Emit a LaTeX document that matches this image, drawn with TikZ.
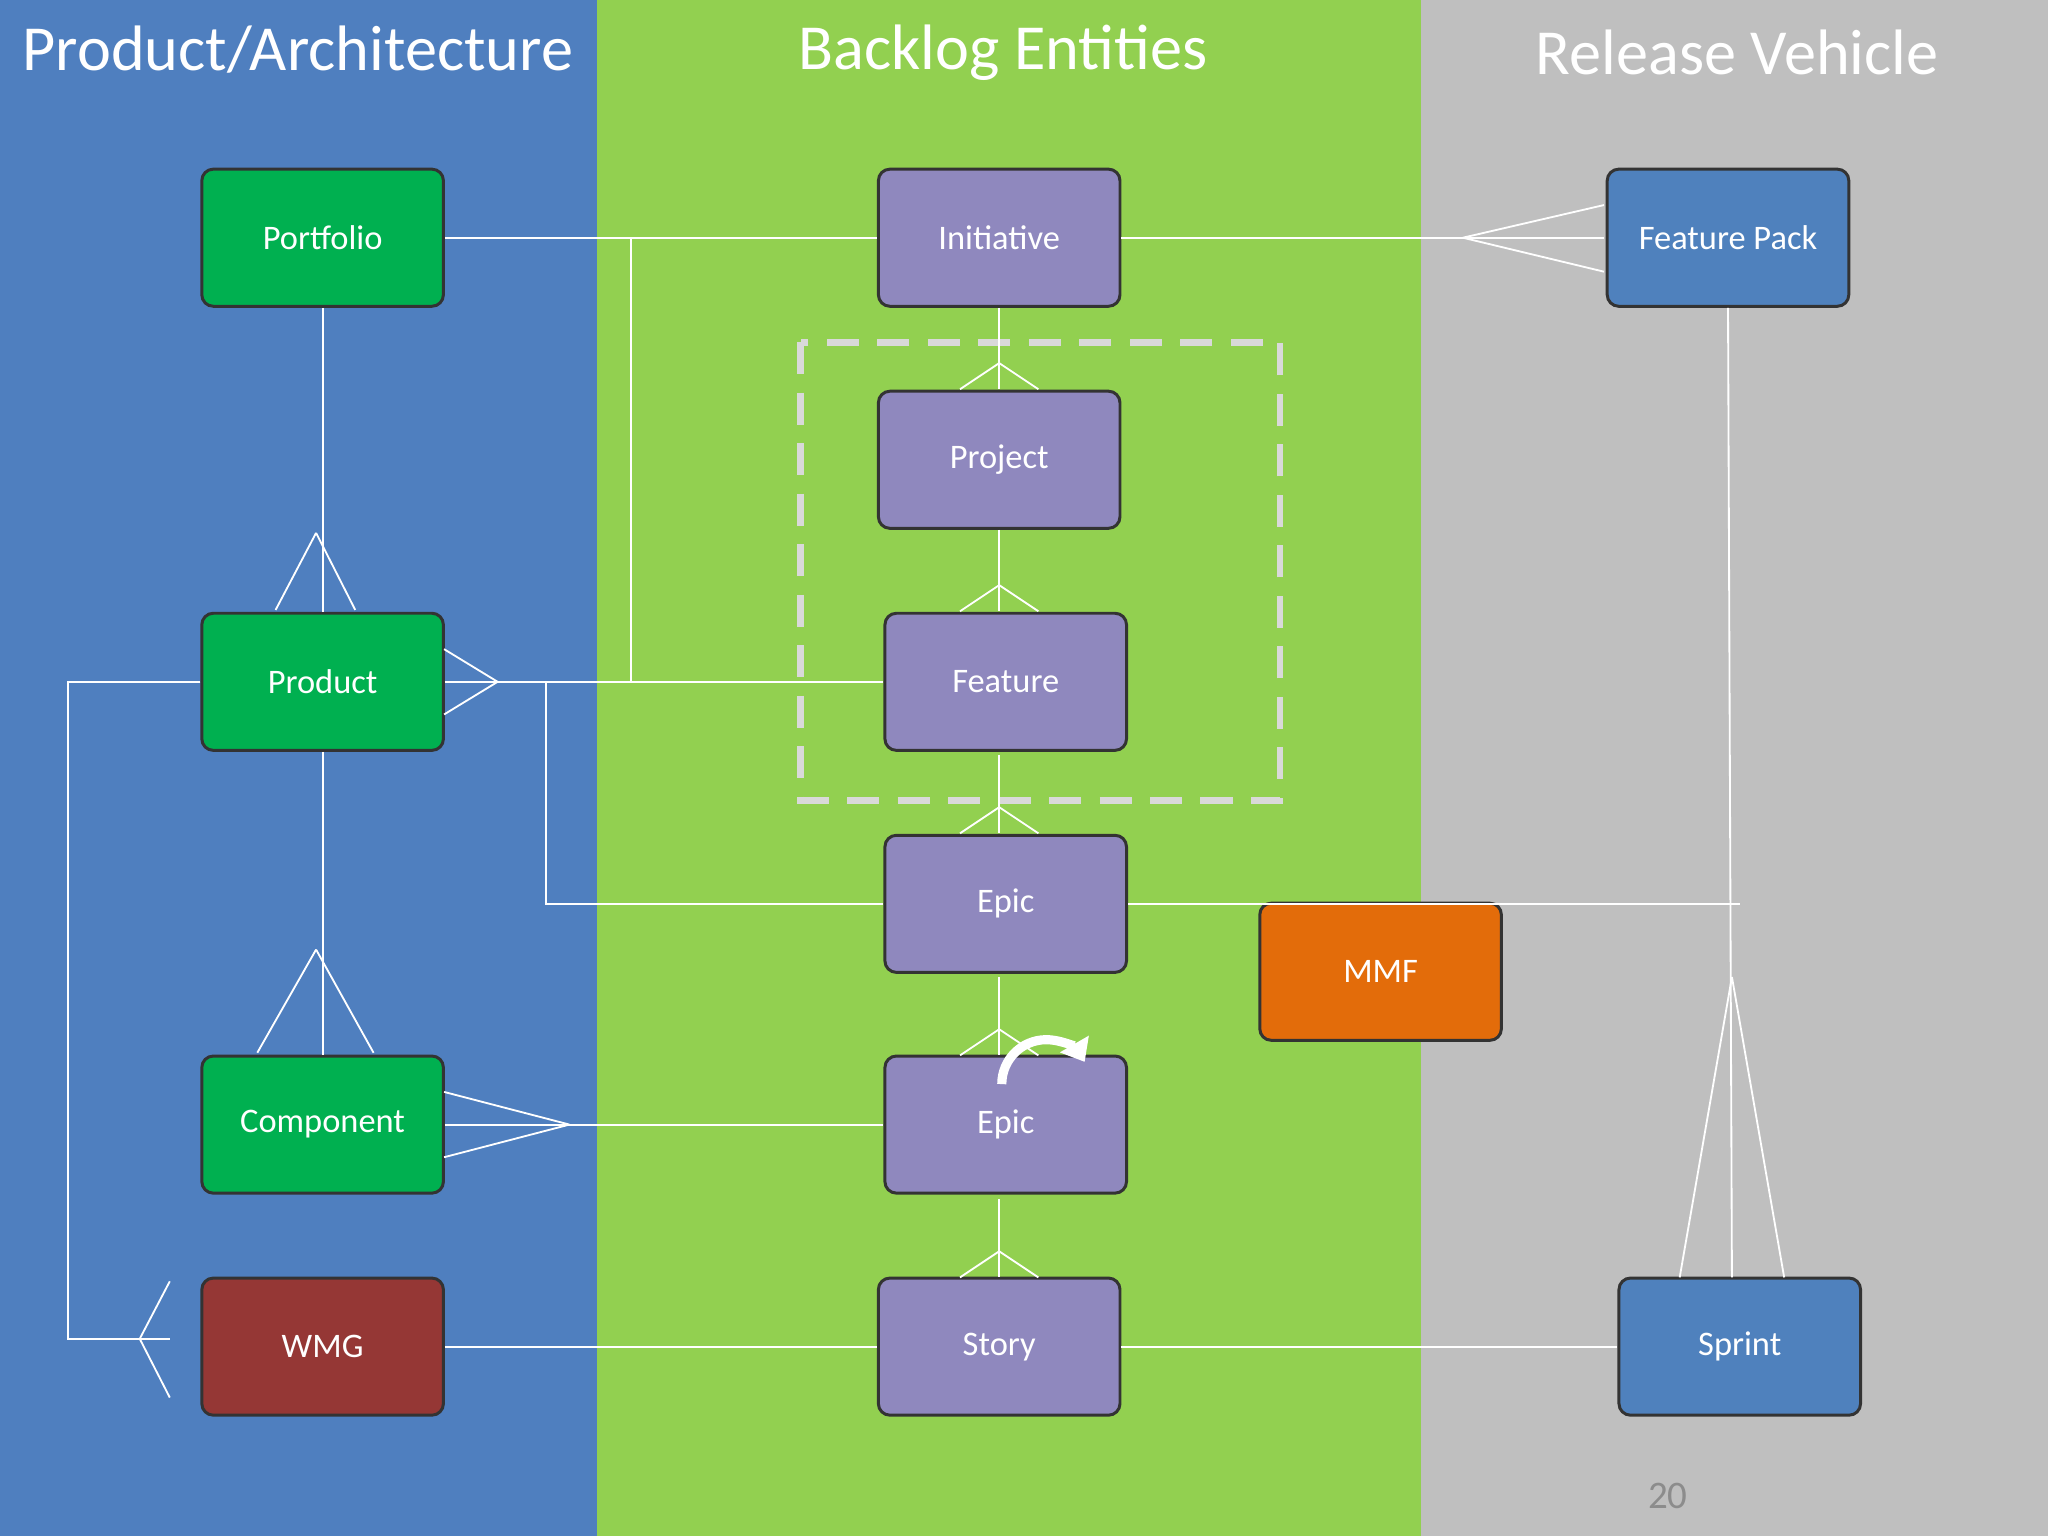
\documentclass[tikz,border=0pt]{standalone}
\usepackage{fontspec}
\setmainfont{Carlito}
\usetikzlibrary{arrows.meta}
\definecolor{colblue}{HTML}{4F7FBF}
\definecolor{colgreen}{HTML}{92D050}
\definecolor{colgray}{HTML}{BFBFBF}
\definecolor{boxgreen}{HTML}{00B050}
\definecolor{boxpurple}{HTML}{8F88BE}
\definecolor{boxblue}{HTML}{4F81BD}
\definecolor{boxred}{HTML}{953735}
\definecolor{boxorange}{HTML}{E36C0A}
\begin{document}
\begin{tikzpicture}[x=0.02cm,y=-0.02cm]
\tikzstyle{entity} = [rectangle, rounded corners=5pt, draw=black!80, line width=1.3pt,
  minimum width=3.7cm, minimum height=2.1cm, text=white, font=\fontsize{15}{18}\selectfont]
\tikzstyle{arch} = [entity, fill=boxgreen]
\tikzstyle{backlog} = [entity, fill=boxpurple]
\tikzstyle{release} = [entity, fill=boxblue]
\tikzstyle{link} = [draw=white, line width=0.8pt]
\tikzstyle{title} = [text=white, font=\fontsize{28}{32}\selectfont]

% columns
\fill[colblue] (0,0) rectangle (457,1176);
\fill[colgreen] (457,0) rectangle (1088,1176);
\fill[colgray] (1088,0) rectangle (1568,1176);
\useasboundingbox (0,0) rectangle (1568,1176);

\node(titleArch) [title] at (228,38) {Product/Architecture};
\node(titleBacklog) [title] at (768,40) {Backlog Entities};
\node(titleRelease) [title] at (1330,40) {Release Vehicle};

\draw[draw=colgray!60, line width=3pt, dash pattern=on 14pt off 8pt] (613,262) rectangle (980,613);

\node(portfolio) [arch] at (247,182) {Portfolio};
\node(product) [arch] at (247,522) {Product};
\node(component) [arch] at (247,861) {Component};
\node(wmg) [entity, fill=boxred] at (247,1031) {WMG};
\node(initiative) [backlog] at (765,182) {Initiative};
\node(project) [backlog] at (765,352) {Project};
\node(feature) [backlog] at (770,522) {Feature};
\node(epic) [backlog] at (770,692) {Epic};
\node(epicB) [backlog] at (770,861) {Epic};
\node(story) [backlog] at (765,1031) {Story};
\node(mmf) [entity, fill=boxorange] at (1057,744) {MMF};
\node(featurePack) [release] at (1323,182) {Feature Pack};
\node(sprint) [release] at (1332,1031) {Sprint};

% horizontal links
\draw[link] (portfolio) -- (initiative);
\draw[link] (initiative) -- (1228,182);
\draw[link] (1120,182) -- (1228,157) (1120,182) -- (1228,208);
\draw[link] (product.east) -- (feature.west);
\draw[link] (381,522) -- (340,497) (381,522) -- (340,547);
\draw[link] (483,182) -- (483,522);
\draw[link] (418,522) -- (418,692) -- (epic.west);
\draw[link] (epic.east) -- (1332,692);
\draw[link] (component.east) -- (epicB.west);
\draw[link] (436,861) -- (340,836) (436,861) -- (340,886);
\draw[link] (wmg) -- (story);
\draw[link] (story) -- (sprint);
\draw[link] (product.west) -- (52,522) -- (52,1025) -- (130,1025);
\draw[link] (107,1025) -- (130,981) (107,1025) -- (130,1070);

% vertical links
\draw[link] (portfolio) -- (product);
\draw[link] (242,408) -- (211,467) (242,408) -- (272,467);
\draw[link] (product) -- (component);
\draw[link] (242,727) -- (197,806) (242,727) -- (286,806);
\draw[link] (initiative.south) -- (765,298);
\draw[link] (project.south) -- (765,468);
\draw[link] (765,578) -- (765,638);
\draw[link] (765,748) -- (765,808);
\draw[link] (765,918) -- (765,978);
\foreach \y in {298,468,638,808,978}
  \draw[link] (735,\y) -- (765,\y-20) -- (795,\y);
\draw[link] (featurePack.south) -- (1326,978);
\draw[link] (1326,748) -- (1286,978) (1326,748) -- (1366,978);

\draw[white, line width=4pt, -{Triangle[length=9pt,width=14pt]}] (767,830) arc[start angle=180, end angle=330, radius=34];
\node(pageNum) [text=black!45, font=\fontsize{17}{20}\selectfont] at (1277,1145) {20};
\end{tikzpicture}
\end{document}
